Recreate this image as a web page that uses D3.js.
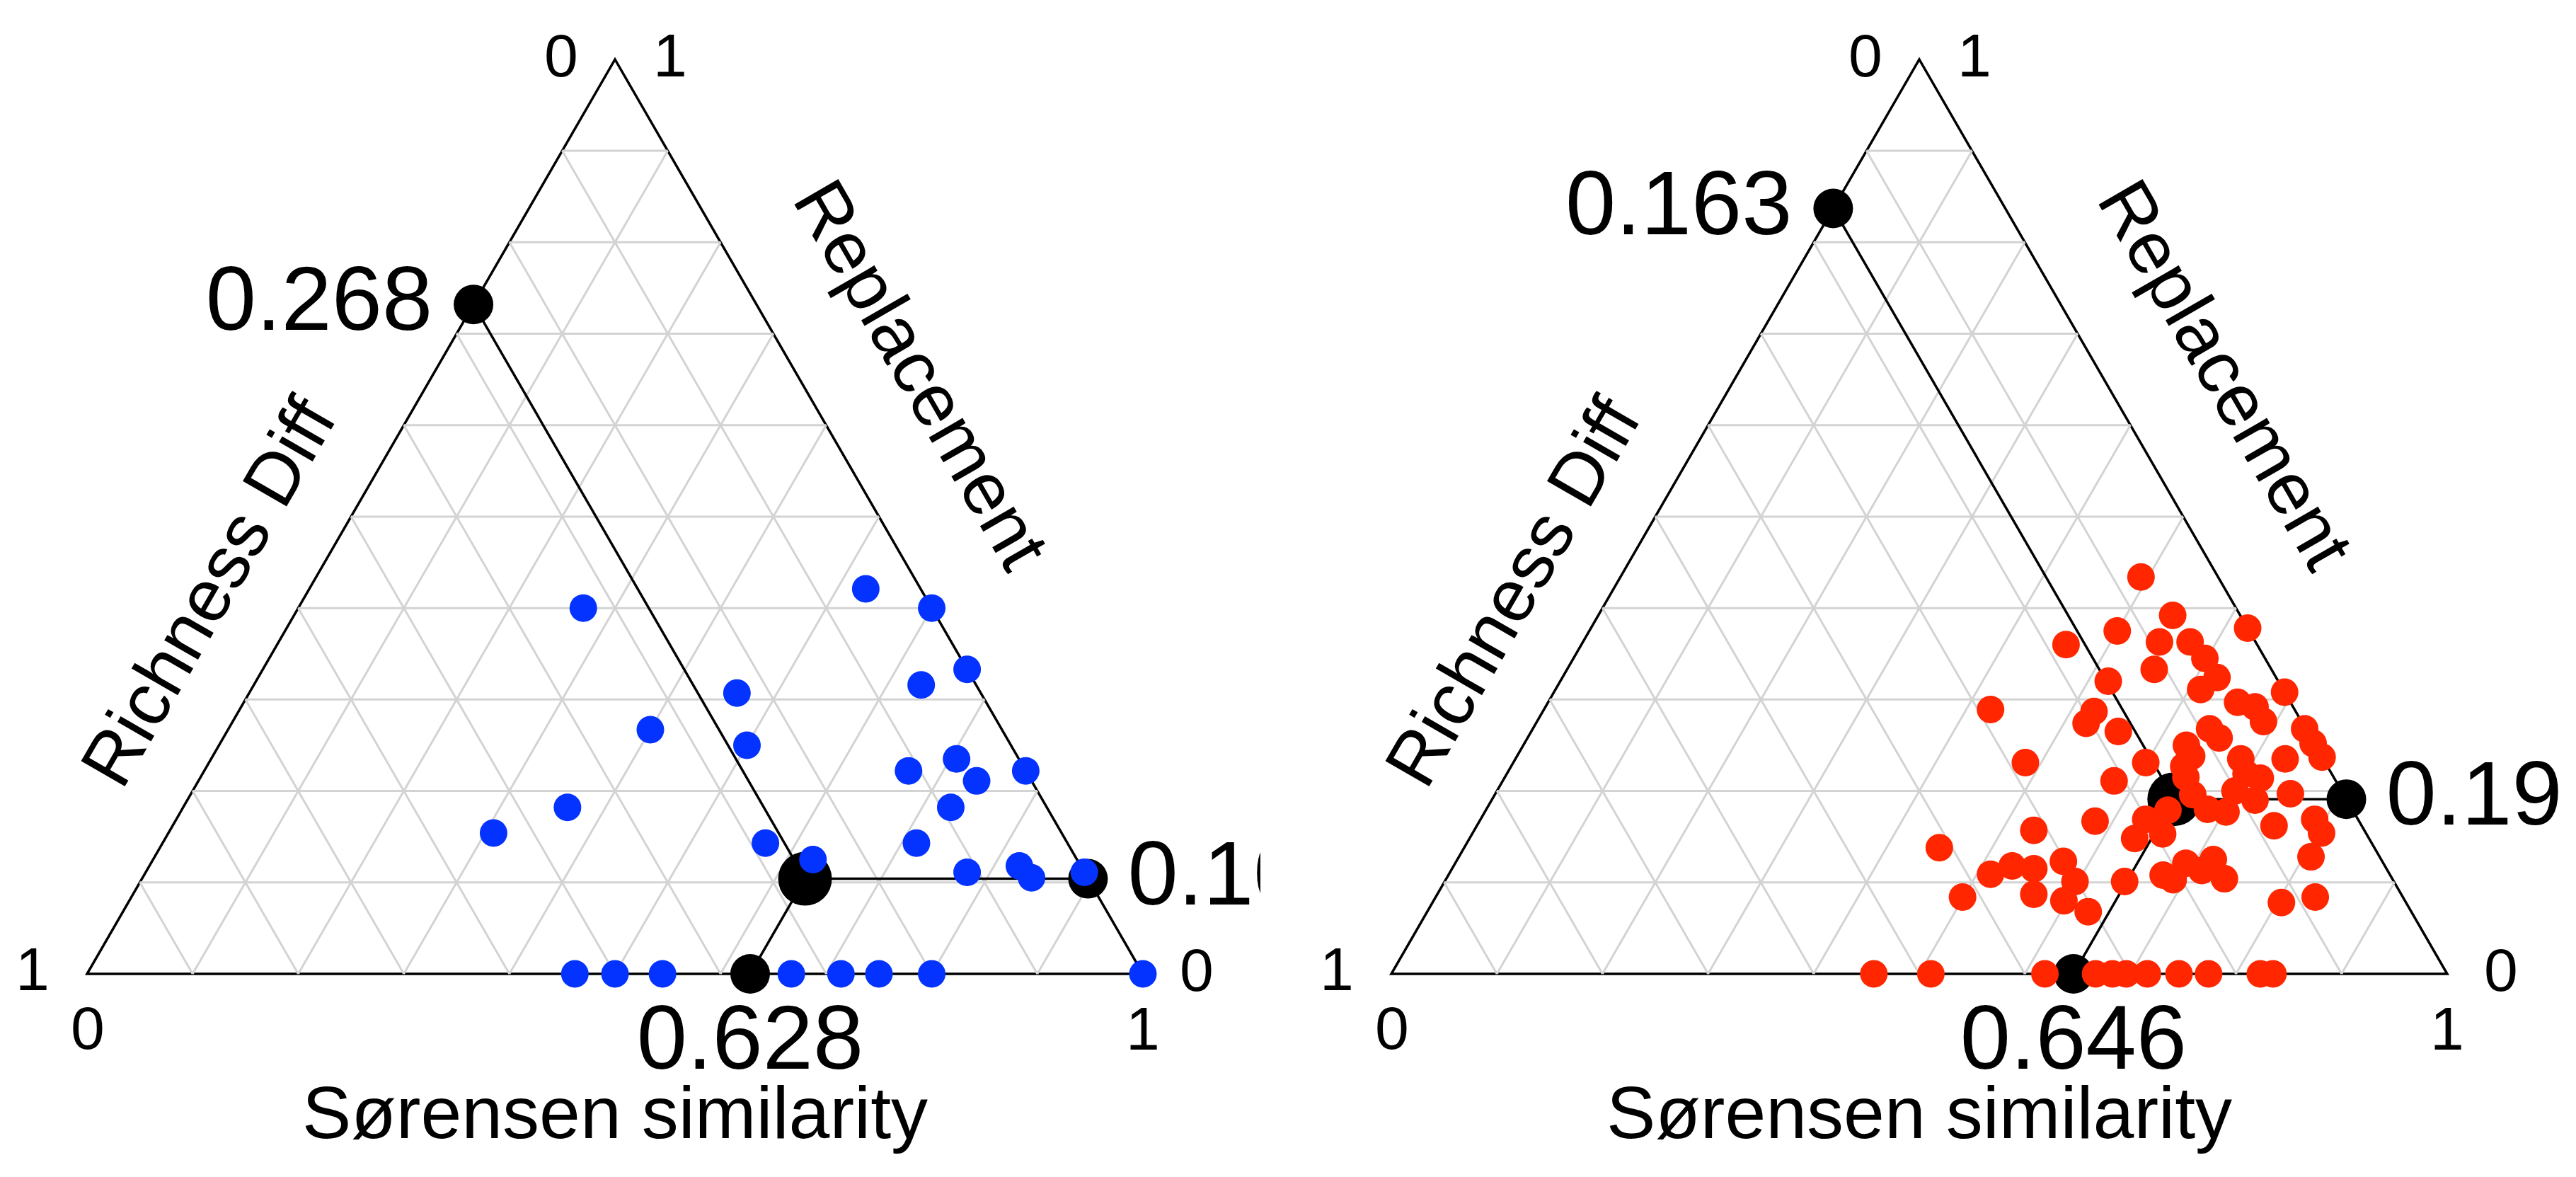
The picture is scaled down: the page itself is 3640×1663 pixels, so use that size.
<!DOCTYPE html>
<html>
<head>
<meta charset="utf-8">
<script src="https://cdn.jsdelivr.net/npm/d3@7"></script>
<style>
  body { margin: 0; background: #fff; }
  svg { display: block; font-family: "Liberation Sans", Arial, sans-serif; }
</style>
</head>
<body>
<svg id="chart" width="3640" height="1663"></svg>
<script>
// axis titles: bottom edge, right edge, left edge
let axisTitles = ["Sørensen similarity", "Replacement", "Richness Diff"];
let tickLabels = ["0", "1"];
let gridSteps = d3.range(1, 10).map(k => k / 10);

// left plot (blue): Sørensen similarity and Replacement for each pair,
// Richness Diff is what is left over (1 - S - R)
let blueSim = [0.27, 0.527, 0.60, 0.667, 0.632, 0.462, 0.40, 0.50, 0.667, 0.706, 0.737,
  0.778, 0.364, 0.308, 0.727, 0.571, 0.714, 0.625, 0.778, 0.824, 0.842, 0.889,
  0.462, 0.50, 0.545, 0.667, 0.714, 0.75, 0.80, 1.0];
let blueRepl = [0.40, 0.421, 0.40, 0.333, 0.316, 0.307, 0.267, 0.25, 0.222, 0.235, 0.211,
  0.222, 0.182, 0.154, 0.182, 0.143, 0.143, 0.125, 0.111, 0.118, 0.105, 0.111,
  0, 0, 0, 0, 0, 0, 0, 0];
// mean: Sørensen, Replacement, Richness Diff
let blueMean = [0.628, 0.104, 0.268];

// right plot (red)
let redSim = [0.493, 0.544, 0.500, 0.459, 0.546, 0.575, 0.622, 0.556, 0.598, 0.620, 0.611,
  0.519, 0.692, 0.653, 0.672, 0.688, 0.423, 0.522, 0.521, 0.556, 0.641, 0.655,
  0.731, 0.747, 0.763, 0.628, 0.639, 0.687, 0.729, 0.485, 0.599, 0.637, 0.579,
  0.645, 0.661, 0.683, 0.702, 0.699, 0.700, 0.716, 0.723, 0.755, 0.753, 0.790,
  0.804, 0.807, 0.833, 0.804,
  0.646, 0.630, 0.630, 0.654, 0.583, 0.530, 0.450, 0.513, 0.529, 0.551, 0.575,
  0.597, 0.565, 0.597, 0.626, 0.499, 0.644, 0.677, 0.689, 0.692, 0.716, 0.737, 0.711,
  0.457, 0.511, 0.619, 0.667, 0.683, 0.696, 0.716, 0.746, 0.774, 0.823, 0.835];
let redRepl = [0.434, 0.392, 0.375, 0.360, 0.363, 0.363, 0.378, 0.333, 0.345, 0.324, 0.311,
  0.320, 0.308, 0.297, 0.292, 0.276, 0.289, 0.287, 0.274, 0.265, 0.268, 0.258,
  0.268, 0.252, 0.237, 0.250, 0.238, 0.235, 0.235, 0.231, 0.231, 0.227, 0.211,
  0.215, 0.196, 0.180, 0.177, 0.200, 0.219, 0.214, 0.190, 0.162, 0.197, 0.169,
  0.154, 0.128, 0.084, 0.078,
  0.179, 0.169, 0.148, 0.153, 0.167, 0.157, 0.138, 0.109, 0.118, 0.115, 0.123,
  0.101, 0.087, 0.080, 0.068, 0.084, 0.101, 0.108, 0.103, 0.121, 0.125, 0.104, 0.113,
  0, 0, 0, 0, 0, 0, 0, 0, 0, 0, 0];
let redMean = [0.646, 0.191, 0.163];

let svg = d3.select("#chart");
svg.append("rect").attr("width", 3640).attr("height", 1663).attr("fill", "#fff");

// each panel was cropped on its right side in the source figure
let defs = svg.append("defs");
defs.append("clipPath").attr("id", "clipLeft")
  .append("rect").attr("width", 1781).attr("height", 1663);
defs.append("clipPath").attr("id", "clipRight")
  .append("rect").attr("x", 1800).attr("width", 1822).attr("height", 1663);

let fmt = d3.format(".3f");
let side = 1492, baseY = 1376;
let cos60 = 0.5, sin60 = Math.sqrt(3) / 2;

function drawTernary(g, left, sims, repls, mean, colour) {
  let x = d3.scaleLinear().domain([0, 1]).range([left, left + side]);
  let y = d3.scaleLinear().domain([0, 1]).range([baseY, baseY - side * sin60]);
  // a point is given as [Sørensen, Replacement]
  let px = d => x(d[0] + d[1] / 2), py = d => y(d[1]);
  let line = d3.line().x(px).y(py);

  let corners = { rich: [0, 0], sim: [1, 0], repl: [0, 1] };

  // outline
  g.append("path")
    .attr("d", line([corners.rich, corners.sim, corners.repl]) + "Z")
    .attr("fill", "none").attr("stroke", "#000").attr("stroke-width", 3.5)
    .attr("stroke-linejoin", "miter");

  // grid
  let grid = [];
  gridSteps.forEach(k => {
    grid.push([[0, k], [1 - k, k]]);      // constant Replacement
    grid.push([[k, 0], [k, 1 - k]]);      // constant Sørensen
    grid.push([[1 - k, 0], [0, 1 - k]]);  // constant Richness Diff
  });
  g.append("g").selectAll("path").data(grid).join("path")
    .attr("d", line).attr("stroke", "#d3d3d3").attr("stroke-width", 3).attr("fill", "none");

  // mean and its projections on the three edges
  let m = [mean[0], mean[1]];
  let onLeft = [0, mean[0] + mean[1]], onRight = [1 - mean[1], mean[1]], onBase = [mean[0], 0];
  g.append("g").selectAll("path").data([[m, onLeft], [m, onRight], [m, onBase]]).join("path")
    .attr("d", line).attr("stroke", "#000").attr("stroke-width", 3.5).attr("fill", "none");
  g.append("g").selectAll("circle").data([onLeft, onRight, onBase]).join("circle")
    .attr("cx", px).attr("cy", py).attr("r", 28).attr("fill", "#000");
  g.append("circle").attr("cx", px(m)).attr("cy", py(m)).attr("r", 38).attr("fill", "#000");

  // data points
  g.append("g").selectAll("circle").data(d3.zip(sims, repls)).join("circle")
    .attr("cx", px).attr("cy", py).attr("r", 19.5).attr("fill", colour);

  // mean value labels
  let big = g.append("g").attr("font-size", 128).attr("fill", "#000");
  big.append("text").attr("x", px(onLeft) - 58).attr("y", py(onLeft) + 36)
    .attr("text-anchor", "end").text(fmt(mean[2]));
  big.append("text").attr("x", px(onRight) + 56).attr("y", py(onRight) + 36)
    .attr("text-anchor", "start").text(fmt(mean[1]));
  big.append("text").attr("x", px(onBase)).attr("y", baseY + 134)
    .attr("text-anchor", "middle").text(fmt(mean[0]));

  // corner tick labels
  let ticks = g.append("g").attr("font-size", 86).attr("text-anchor", "middle");
  let bl = [px(corners.rich), py(corners.rich)];
  let br = [px(corners.sim), py(corners.sim)];
  let ap = [px(corners.repl), py(corners.repl)];
  let tickPos = [
    [bl[0] - 77, bl[1] + 23, tickLabels[1]],
    [bl[0] + 1, bl[1] + 106, tickLabels[0]],
    [ap[0] - 76, ap[1] + 24, tickLabels[0]],
    [ap[0] + 78, ap[1] + 24, tickLabels[1]],
    [br[0] + 76, br[1] + 24, tickLabels[0]],
    [br[0], br[1] + 107, tickLabels[1]]
  ];
  ticks.selectAll("text").data(tickPos).join("text")
    .attr("x", d => d[0]).attr("y", d => d[1]).text(d => d[2]);

  // axis titles
  let titles = g.append("g").attr("font-size", 104).attr("text-anchor", "middle");
  titles.append("text").attr("x", px([0.5, 0])).attr("y", 1608).text(axisTitles[0]);
  let rx = ap[0] + 602 * cos60 + 117 * sin60, ry = ap[1] + 602 * sin60 - 117 * cos60;
  titles.append("text").attr("transform", `translate(${rx},${ry}) rotate(60)`).text(axisTitles[1]);
  let lx = bl[0] + 553 * cos60 - 86 * sin60, ly = bl[1] - 553 * sin60 - 86 * cos60;
  titles.append("text").attr("transform", `translate(${lx},${ly}) rotate(-60)`).text(axisTitles[2]);
}

drawTernary(svg.append("g").attr("clip-path", "url(#clipLeft)"), 123, blueSim, blueRepl, blueMean, "#0433ff");
drawTernary(svg.append("g").attr("clip-path", "url(#clipRight)"), 1966, redSim, redRepl, redMean, "#ff2600");
</script>
</body>
</html>
